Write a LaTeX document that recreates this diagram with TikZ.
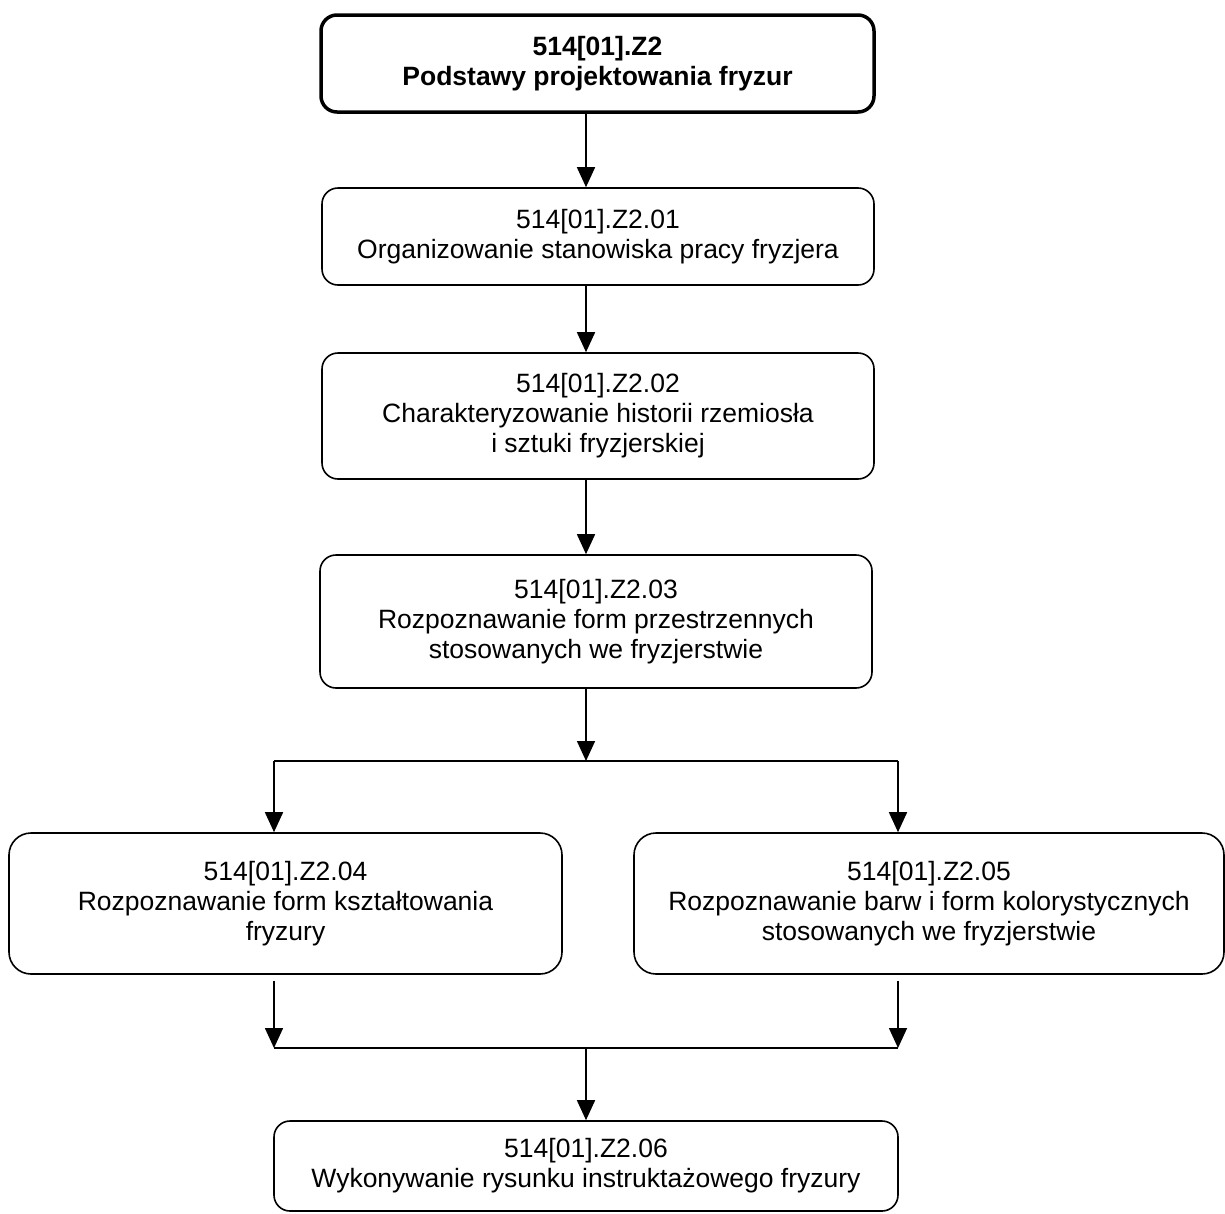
\documentclass[tikz,border=0pt]{standalone}
\usepackage{fontspec}
\setmainfont{Liberation Sans}
\usetikzlibrary{arrows.meta}
\usetikzlibrary{shapes}
\begin{document}
\begin{tikzpicture}[>={Triangle[length=20pt,width=18pt]},line join=bevel,x=1pt,y=-1pt,
  box/.style={draw,rectangle,rounded corners=16pt,line width=1.6pt,inner sep=0pt,align=center,
    font=\fontsize{26.5}{30}\selectfont},
  wide box/.style={box,rounded corners=22pt},
  head box/.style={box,line width=3.5pt,font=\fontsize{26.5}{30}\selectfont\bfseries}]
\useasboundingbox (0,0) rectangle (1225,1213);
%%
\node (node_0) at (597.5,63.5) [head box,minimum width=553pt,minimum height=97pt] {514[01].Z2\\Podstawy projektowania fryzur};
  \node (node_1) at (598,236.5) [box,minimum width=552pt,minimum height=97pt] {514[01].Z2.01\\Organizowanie stanowiska pracy fryzjera};
  \node (node_2) at (598,416) [box,minimum width=552pt,minimum height=126pt] {514[01].Z2.02\\Charakteryzowanie historii rzemiosła\\i sztuki fryzjerskiej};
  \node (node_3) at (596,621.5) [box,minimum width=552pt,minimum height=133pt] {514[01].Z2.03\\Rozpoznawanie form przestrzennych\\stosowanych we fryzjerstwie};
  \node (node_4) at (285.5,903.5) [wide box,minimum width=553pt,minimum height=141pt] {514[01].Z2.04\\Rozpoznawanie form kształtowania\\fryzury};
  \node (node_5) at (929,903.5) [wide box,minimum width=590pt,minimum height=141pt] {514[01].Z2.05\\Rozpoznawanie barw i form kolorystycznych\\stosowanych we fryzjerstwie};
  \node (node_6) at (586,1166) [box,minimum width=624pt,minimum height=90pt] {514[01].Z2.06\\Wykonywanie rysunku instruktażowego fryzury};
%
  \coordinate (split) at (586,761);
  \coordinate (split_l) at (274,761);
  \coordinate (split_r) at (898,761);
  \coordinate (merge) at (586,1048);
  \coordinate (merge_l) at (274,1048);
  \coordinate (merge_r) at (898,1048);
%
  \draw [black,line width=1.6pt,->] (node_0.south -| split) -- (node_1.north -| split);
  \draw [black,line width=1.6pt,->] (node_1.south -| split) -- (node_2.north -| split);
  \draw [black,line width=1.6pt,->] (node_2.south -| split) -- (node_3.north -| split);
  \draw [black,line width=1.6pt,->] (node_3.south -| split) -- (split);
  \draw [black,line width=1.6pt] (split_l) -- (split_r);
  \draw [black,line width=1.6pt,->] (split_l) -- (node_4.north -| split_l);
  \draw [black,line width=1.6pt,->] (split_r) -- (node_5.north -| split_r);
  \draw [black,line width=1.6pt,->] ([yshift=-6pt]node_4.south -| merge_l) -- (merge_l);
  \draw [black,line width=1.6pt,->] ([yshift=-6pt]node_5.south -| merge_r) -- (merge_r);
  \draw [black,line width=1.6pt] (merge_l) -- (merge_r);
  \draw [black,line width=1.6pt,->] (merge) -- (node_6.north -| merge);
%
\end{tikzpicture}
\end{document}
